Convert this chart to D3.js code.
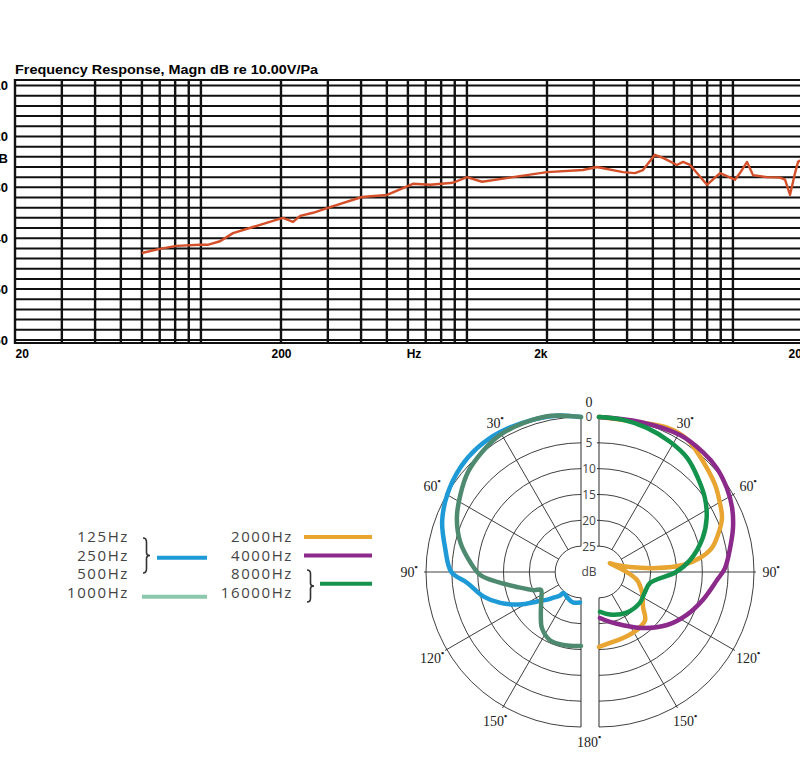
<!DOCTYPE html>
<html>
<head>
<meta charset="utf-8">
<script src="https://cdn.jsdelivr.net/npm/d3@7"></script>
<style>
  body { margin: 0; background: #fff; }
  svg { display: block; }
</style>
</head>
<body>
<svg id="chart" width="800" height="767"></svg>
<script>
// ---- frequency response ----
const respFreq = [60, 70, 81, 99, 106, 118, 132, 157, 203, 222, 236, 264, 306, 403, 501, 627, 727, 887,
  1000, 1140, 1490, 2000, 2730, 3080, 3860, 4280, 4590, 5090, 5460, 6160, 6490, 6900, 7990, 8940,
  10180, 10630, 11300, 11900, 13430, 15030, 15700, 16390, 17120, 17570, 18660];
const respMagn = [-42.9, -42.1, -41.5, -41.3, -41.3, -40.6, -39.0, -37.8, -36.0, -36.8, -35.6, -35.0, -33.9, -31.9, -31.5, -29.3, -29.5, -29.1,
  -28.0, -28.9, -28.0, -27.0, -26.6, -26.0, -27.0, -27.2, -26.6, -23.6, -24.2, -25.6, -25.0, -25.6, -29.5, -27.2,
  -28.5, -27.2, -25.0, -27.6, -28.0, -28.1, -28.5, -31.5, -27.2, -25.0, -24.2];

const gridFreqs = [20, 30, 40, 50, 60, 70, 80, 90, 100, 200, 300, 400, 500, 600, 700, 800, 900, 1000,
  2000, 3000, 4000, 5000, 6000, 7000, 8000, 9000, 10000, 20000];
const gridDb = d3.range(-10, -61, -2);
const freqTicks = [20, 200, 2000, 20000];
const freqTickLabels = ["20", "200", "2k", "20k"];
const dbTicks = [-10, -20, -30, -40, -50, -60];

// ---- polar pattern: [angle deg, attenuation dB] ----
const polarLow = [[0, 0], [8, -0.6], [17, -0.9], [30, -1.3], [40, -1.3], [49, -0.9], [60, 0.1], [70, 1.4], [80, 3.3],
  [90, 4.9], [95.5, 7.9], [104, 10.5], [111, 13.3], [118, 16.6], [124, 19.8], [129.5, 21.6], [133, 22.7],
  [138, 23.8], [140, 24.7], [152, 24.4], [165, 23.9], [178, 24.1]];
const polar1000 = [[0, 0], [11, -0.8], [21, -0.9], [31, -0.8], [39.5, -0.1], [48.5, 0.8], [57.5, 2.3], [66.5, 3.8],
  [76, 5.9], [85, 8.5], [91.7, 10.5], [96.8, 13.7], [103.2, 17.3], [111, 20.2], [114.2, 21.5], [125, 20.6],
  [137, 18.6], [145, 16.8], [155.5, 15.5], [167.6, 15.5], [180, 15.7]];
const polar2000 = [[0, 0], [15, 0], [25, -0.9], [33, -0.9], [39.2, 0], [46.1, 1.0], [53.1, 1.9], [59.9, 3.0],
  [66.3, 4.0], [72.7, 5.9], [78, 7.7], [82.1, 10.3], [85.2, 13.7], [86.1, 18.8], [80.8, 24.0], [68.7, 26.3],
  [50.7, 27.3], [85.2, 25.3], [101.9, 22.5], [116, 20.7], [128.5, 19.1], [136.2, 17.1], [146.8, 16.6],
  [160, 16.4], [171.2, 16.1], [180, 15.5]];
const polar4000 = [[0, 0], [15.3, -0.1], [30.6, -0.8], [40.9, -0.7], [48.6, -0.4], [56.7, 0.4], [64.3, 1.4],
  [71.8, 2.7], [79.6, 4.2], [88.2, 5.6], [93.9, 7.1], [105.1, 9.2], [116, 11.1], [127.9, 13.3], [141.8, 16.2],
  [155.6, 18.7], [167.6, 20.1], [178.8, 21.1]];
const polarHigh = [[0, 0], [9, 0.2], [18.4, 0.6], [28.6, 1.3], [37.7, 2.1], [46.5, 3.6], [55.1, 5.0], [63.4, 6.7],
  [71.9, 8.9], [82.5, 12.2], [90, 15.1], [102.2, 19.9], [113.5, 20.3], [127.1, 20.1], [145.7, 20.5],
  [165.7, 21.5], [178.6, 22.3]];

const rings = [0, 5, 10, 15, 20, 25];
const spokes = [30, 60, 90, 120, 150];
const legendLeft = ["125Hz", "250Hz", "500Hz", "1000Hz"];
const legendRight = ["2000Hz", "4000Hz", "8000Hz", "16000Hz"];

const svg = d3.select("#chart");

// ===== frequency response =====
const x = d3.scaleLog().domain([20, 20000]).range([15, 813]);
const y = d3.scaleLinear().domain([-8.9, -60.6]).range([80, 343]);
const fr = svg.append("g").attr("class", "freq");

fr.selectAll("line.h")
  .data([y.domain()[0], ...gridDb, y.domain()[1]])
  .join("line")
    .attr("class", "h")
    .attr("x1", x(20)).attr("x2", x(20000))
    .attr("y1", d => y(d)).attr("y2", d => y(d))
    .attr("stroke", "#111").attr("stroke-width", 2);

fr.selectAll("line.v")
  .data(gridFreqs)
  .join("line")
    .attr("class", "v")
    .attr("x1", d => x(d)).attr("x2", d => x(d))
    .attr("y1", y.range()[0] - 1).attr("y2", y.range()[1] + 1)
    .attr("stroke", "#111").attr("stroke-width", 2.4);

const resp = respFreq.map((f, i) => ({f: f, db: respMagn[i]}));
fr.append("path")
  .datum(resp)
  .attr("fill", "none")
  .attr("stroke", "#d4502a")
  .attr("stroke-width", 2.4)
  .attr("stroke-linejoin", "round")
  .attr("d", d3.line().x(d => x(d.f)).y(d => y(d.db)));

fr.append("text")
  .attr("x", 15).attr("y", 74)
  .attr("font-family", "Liberation Sans, Arial, sans-serif")
  .attr("font-weight", "bold").attr("font-size", 12)
  .attr("textLength", 303).attr("lengthAdjust", "spacingAndGlyphs")
  .text("Frequency Response, Magn dB re 10.00V/Pa");

const xAxis = fr.append("g")
  .attr("transform", `translate(0, ${y.range()[1]})`)
  .call(d3.axisBottom(x).tickValues(freqTicks).tickFormat((d, i) => freqTickLabels[i]).tickSize(0).tickPadding(6));
xAxis.select(".domain").remove();
xAxis.selectAll("text")
  .attr("font-family", "Liberation Sans, Arial, sans-serif")
  .attr("font-weight", "bold").attr("font-size", 12).attr("fill", "#000")
  .attr("text-anchor", (d, i) => ["start", "middle", "end", "start"][i])
  .attr("dx", (d, i) => i === 3 ? -25 : 0);
fr.append("text")
  .attr("x", x(Math.sqrt(200 * 2000))).attr("y", y.range()[1] + 6).attr("dy", "0.71em")
  .attr("text-anchor", "middle")
  .attr("font-family", "Liberation Sans, Arial, sans-serif")
  .attr("font-weight", "bold").attr("font-size", 12)
  .text("Hz");

const yAxis = fr.append("g")
  .attr("transform", "translate(8, 0)")
  .call(d3.axisLeft(y).tickValues(dbTicks).tickSize(0).tickPadding(0));
yAxis.select(".domain").remove();
yAxis.selectAll("text")
  .attr("font-family", "Liberation Sans, Arial, sans-serif")
  .attr("font-weight", "bold").attr("font-size", 13).attr("fill", "#000");
fr.append("text")
  .attr("x", 8).attr("y", y(-25) - 3).attr("dy", "0.35em")
  .attr("text-anchor", "end")
  .attr("font-family", "Liberation Sans, Arial, sans-serif")
  .attr("font-weight", "bold").attr("font-size", 13)
  .text("dB");

// ===== polar pattern =====
const r = d3.scaleLinear().domain([0, 30]).range([155, 0]);
const rad = a => a * Math.PI / 180;
const cy = 572, cxLeft = 581, cxRight = 599, cxMid = 589;
const lineCol = "#2a2a2a";

function degLabel(sel) {
    sel.append("tspan").attr("font-size", 9).attr("font-weight", "bold").attr("dy", "-0.8em").text("•");
}

function drawHalf(side, cx) {
    const g = svg.append("g").attr("transform", `translate(${cx},${cy})`);

    rings.forEach(db => {
        const p = d3.path();
        p.arc(0, 0, r(db), -Math.PI / 2, Math.PI / 2, side < 0);
        g.append("path").attr("d", p.toString())
          .attr("fill", "none").attr("stroke", lineCol).attr("stroke-width", 0.9);
    });

    g.selectAll("line.spoke")
      .data(spokes)
      .join("line")
        .attr("class", "spoke")
        .attr("x1", a => side * r(25) * Math.sin(rad(a)))
        .attr("y1", a => -r(25) * Math.cos(rad(a)))
        .attr("x2", a => side * (r(0) + 2) * Math.sin(rad(a)))
        .attr("y2", a => -(r(0) + 2) * Math.cos(rad(a)))
        .attr("stroke", lineCol).attr("stroke-width", 0.9);

    [[-r(0), -r(25)], [r(25), r(0)]].forEach(s => {
        g.append("line").attr("x1", 0).attr("x2", 0).attr("y1", s[0]).attr("y2", s[1])
          .attr("stroke", lineCol).attr("stroke-width", 1);
    });
    if (side > 0) {
        g.selectAll("line.tick")
          .data(rings)
          .join("line")
            .attr("class", "tick")
            .attr("x1", 0).attr("x2", -2)
            .attr("y1", d => -r(d)).attr("y2", d => -r(d))
            .attr("stroke", lineCol).attr("stroke-width", 1);
    }

    const lbl = g.selectAll("text.ang")
      .data(spokes)
      .join("text")
        .attr("class", "ang")
        .attr("x", a => side * 172 * Math.sin(rad(a)))
        .attr("y", a => -172 * Math.cos(rad(a)))
        .attr("dy", "0.35em")
        .attr("text-anchor", "middle")
        .attr("font-family", "Liberation Serif, Times New Roman, serif")
        .attr("font-size", 14).attr("fill", "#222");
    lbl.append("tspan").text(a => a);
    degLabel(lbl);
    return g;
}

const gLeft = drawHalf(-1, cxLeft);
const gRight = drawHalf(1, cxRight);

const mid = svg.append("g").attr("transform", `translate(${cxMid},${cy})`);
mid.selectAll("text.db")
  .data(rings)
  .join("text")
    .attr("class", "db")
    .attr("x", 0).attr("y", d => -r(d)).attr("dy", "0.36em")
    .attr("text-anchor", "middle")
    .attr("font-family", "Open Sans, sans-serif").attr("font-size", 12).attr("fill", "#444")
    .text(d => d);
mid.append("text")
  .attr("y", 0).attr("dy", "0.36em").attr("text-anchor", "middle")
  .attr("font-family", "Open Sans, sans-serif").attr("font-size", 12).attr("fill", "#444")
  .text("dB");
mid.append("text")
  .attr("y", -170).attr("dy", "0.35em").attr("text-anchor", "middle")
  .attr("font-family", "Liberation Serif, Times New Roman, serif").attr("font-size", 14).attr("fill", "#222")
  .text("0");
const t180 = mid.append("text")
  .attr("y", 170).attr("dy", "0.35em").attr("text-anchor", "middle")
  .attr("font-family", "Liberation Serif, Times New Roman, serif").attr("font-size", 14).attr("fill", "#222");
t180.append("tspan").text("180");
degLabel(t180);

const series = [
    {g: gLeft, side: -1, color: "#1e9ad6", pts: polarLow},
    {g: gLeft, side: -1, color: "#4e8a70", pts: polar1000},
    {g: gRight, side: 1, color: "#e8a532", pts: polar2000},
    {g: gRight, side: 1, color: "#8b2a8a", pts: polar4000},
    {g: gRight, side: 1, color: "#14934d", pts: polarHigh}
];
series.forEach(s => {
    const lr = d3.lineRadial()
      .angle(d => s.side * rad(d[0]))
      .radius(d => r(d[1]))
      .curve(d3.curveCatmullRom.alpha(0.5));
    s.g.append("path")
      .datum(s.pts)
      .attr("fill", "none")
      .attr("stroke", s.color)
      .attr("stroke-width", 4.5)
      .attr("stroke-linecap", "round")
      .attr("stroke-linejoin", "round")
      .attr("d", lr);
});

// ===== legend =====
const rowY = i => 542 + 18.6 * i;
const legend = svg.append("g")
  .attr("font-family", "Open Sans, sans-serif").attr("font-size", 15)
  .attr("fill", "#444").attr("letter-spacing", 1.6);
legend.selectAll("text.l")
  .data(legendLeft).join("text").attr("class", "l")
  .attr("x", 129).attr("y", (d, i) => rowY(i)).attr("text-anchor", "end").text(d => d);
legend.selectAll("text.r")
  .data(legendRight).join("text").attr("class", "r")
  .attr("x", 293).attr("y", (d, i) => rowY(i)).attr("text-anchor", "end").text(d => d);

function brace(xb, y1, y2, w) {
    const ym = (y1 + y2) / 2, h = y2 - y1;
    return `M${xb},${y1} Q${xb + w},${y1} ${xb + w},${y1 + 0.12 * h} L${xb + w},${ym - 0.08 * h} ` +
      `Q${xb + w},${ym} ${xb + 2 * w},${ym} Q${xb + w},${ym} ${xb + w},${ym + 0.08 * h} ` +
      `L${xb + w},${y2 - 0.12 * h} Q${xb + w},${y2} ${xb},${y2}`;
}
svg.append("path").attr("d", brace(143, 538, 573, 3.5))
  .attr("fill", "none").attr("stroke", "#333").attr("stroke-width", 1.6);
svg.append("path").attr("d", brace(307, 570, 602, 3.5))
  .attr("fill", "none").attr("stroke", "#333").attr("stroke-width", 1.6);

const legendLines = [
    {color: "#1e9ad6", x1: 157, x2: 207, row: 0.85},
    {color: "#8cc8ab", x1: 142, x2: 207, row: 2.95},
    {color: "#e8a532", x1: 304, x2: 372, row: -0.27},
    {color: "#8b2a8a", x1: 304, x2: 372, row: 0.73},
    {color: "#14934d", x1: 320, x2: 372, row: 2.25}
];
svg.selectAll("line.leg")
  .data(legendLines).join("line").attr("class", "leg")
  .attr("x1", d => d.x1).attr("x2", d => d.x2)
  .attr("y1", d => rowY(d.row)).attr("y2", d => rowY(d.row))
  .attr("stroke", d => d.color).attr("stroke-width", 4);
</script>
</body>
</html>
